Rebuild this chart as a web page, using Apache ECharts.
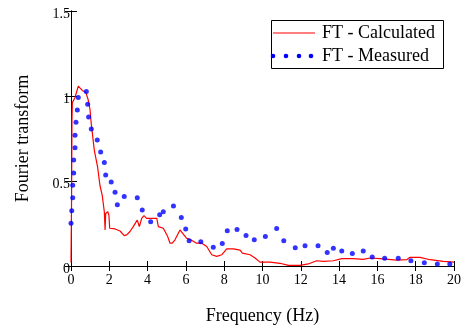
<!DOCTYPE html>
<html>
<head>
<meta charset="utf-8">
<script src="https://cdn.jsdelivr.net/npm/echarts@6/dist/echarts.min.js"></script>
<style>html,body{margin:0;padding:0;background:#fff}#c{width:467px;height:330px}</style>
</head>
<body>
<div id="c"></div>
<script>
var calcX = [0,0.03,0.05,0.07,0.21,0.29,0.38,0.47,0.59,0.68,0.78,0.89,0.99,1.06,1.11,1.22,1.39,1.51,1.63,1.74,1.78,1.81,1.92,1.98,2.02,2.09,2.30,2.56,2.78,2.91,3.08,3.25,3.46,3.57,3.69,3.81,3.95,4.48,4.56,4.82,5.05,5.17,5.29,5.43,5.69,5.78,6.04,6.25,6.56,6.83,7.09,7.35,7.61,7.87,8.13,8.48,8.83,8.95,9.35,9.61,9.87,10.39,10.91,11.35,11.96,12.39,12.83,13.18,13.70,14.14,14.74,15.26,15.61,16.14,17.01,17.53,17.70,18.22,18.75,19.44,20.0];
var calcY = [0.02,0.40,0.85,0.961,0.991,0.998,1.058,1.058,1.033,1.027,1.020,0.981,0.922,0.835,0.786,0.679,0.582,0.475,0.416,0.319,0.212,0.309,0.319,0.299,0.222,0.218,0.218,0.206,0.179,0.183,0.203,0.232,0.270,0.232,0.280,0.296,0.280,0.280,0.232,0.222,0.173,0.134,0.134,0.154,0.212,0.203,0.163,0.154,0.134,0.134,0.115,0.066,0.057,0.066,0.101,0.101,0.093,0.076,0.066,0.047,0.023,0.023,0.016,0.004,0.004,0.012,0.031,0.027,0.031,0.043,0.043,0.039,0.047,0.043,0.035,0.037,0.051,0.051,0.037,0.027,0.023];
var measX = [0,0.04,0.09,0.09,0.14,0.14,0.21,0.21,0.26,0.33,0.38,0.80,0.87,0.92,1.06,1.37,1.55,1.74,1.81,2.10,2.30,2.42,2.78,3.46,3.72,4.16,4.63,4.82,5.35,5.76,5.99,6.17,6.78,7.43,7.90,8.16,8.67,9.14,9.57,10.15,10.74,11.11,11.71,12.22,12.90,13.38,13.70,14.14,14.69,15.26,15.73,16.38,17.09,17.75,18.45,19.13,19.78];
var measY = [0.251,0.325,0.401,0.475,0.547,0.623,0.695,0.769,0.845,0.918,0.991,1.026,0.952,0.877,0.806,0.741,0.670,0.609,0.535,0.494,0.434,0.360,0.409,0.401,0.329,0.261,0.302,0.319,0.353,0.286,0.217,0.149,0.142,0.111,0.133,0.207,0.215,0.179,0.155,0.173,0.220,0.148,0.107,0.119,0.119,0.080,0.105,0.088,0.074,0.088,0.053,0.045,0.045,0.031,0.019,0.012,0.012];
var xTicks = {min: 0, max: 20, interval: 2};
var yTicks = {min: 0, max: 1.5, interval: 0.5};
var seriesNames = ['FT - Calculated', 'FT - Measured'];
var axisNames = ['Frequency (Hz)', 'Fourier transform'];

var FONT = '"Liberation Serif", "Times New Roman", serif';
function zip(a, b) { return a.map(function (v, i) { return [v, b[i]]; }); }
var axisLineStyle = {show: true, lineStyle: {color: '#000', width: 1}};
var tick = {show: true, inside: true, length: 5, lineStyle: {color: '#000', width: 1}};

var chart = echarts.init(document.getElementById('c'), null, {renderer: 'canvas'});
chart.setOption({
  animation: false,
  backgroundColor: '#fff',
  grid: {left: 71, right: 13, top: 11, bottom: 62},
  xAxis: [{
    type: 'value', min: xTicks.min, max: xTicks.max, interval: xTicks.interval,
    name: axisNames[0], nameLocation: 'middle', nameGap: 41,
    nameTextStyle: {fontFamily: FONT, fontSize: 18, color: '#000'},
    axisLine: axisLineStyle, axisTick: tick, splitLine: {show: false},
    axisLabel: {fontFamily: FONT, fontSize: 14, color: '#000', margin: 7}
  }, {
    type: 'value', position: 'top', min: xTicks.min, max: xTicks.max, interval: xTicks.interval,
    axisLine: axisLineStyle, axisTick: tick, splitLine: {show: false}, axisLabel: {show: false}
  }],
  yAxis: [{
    type: 'value', min: yTicks.min, max: yTicks.max, interval: yTicks.interval,
    name: axisNames[1], nameLocation: 'middle', nameGap: 39, nameRotate: 90,
    nameTextStyle: {fontFamily: FONT, fontSize: 18, color: '#000'},
    axisLine: axisLineStyle, axisTick: {show: true, inside: true, length: 6, lineStyle: {color: '#000'}},
    splitLine: {show: false},
    axisLabel: {fontFamily: FONT, fontSize: 14, color: '#000', margin: 1, verticalAlign: 'top', lineHeight: 7}
  }, {
    type: 'value', position: 'right', min: yTicks.min, max: yTicks.max, interval: yTicks.interval,
    axisLine: axisLineStyle, axisTick: {show: true, inside: true, length: 6, lineStyle: {color: '#000'}},
    splitLine: {show: false}, axisLabel: {show: false}
  }],
  series: [{
    name: seriesNames[0], type: 'line', data: zip(calcX, calcY), showSymbol: false, symbol: 'none',
    lineStyle: {color: '#ff0000', width: 1.2}, z: 3
  }, {
    name: seriesNames[1], type: 'scatter', data: zip(measX, measY), symbol: 'circle', symbolSize: 5,
    itemStyle: {color: '#0000ff'}, z: 4
  }],
  graphic: [
    {type: 'rect', left: 271, top: 20, shape: {width: 172, height: 48}, style: {fill: '#fff', stroke: '#000', lineWidth: 1}, z: 10},
    {type: 'line', shape: {x1: 273, y1: 33, x2: 315, y2: 33}, style: {stroke: '#ff0000', lineWidth: 1.2}, z: 11},
    {type: 'text', x: 322, y: 33, style: {text: seriesNames[0], font: '18px ' + FONT, fill: '#000', verticalAlign: 'middle'}, z: 11},
    {type: 'circle', shape: {cx: 273, cy: 56, r: 2.3}, style: {fill: '#0000ff'}, z: 11},
    {type: 'circle', shape: {cx: 286, cy: 56, r: 2.3}, style: {fill: '#0000ff'}, z: 11},
    {type: 'circle', shape: {cx: 299, cy: 56, r: 2.3}, style: {fill: '#0000ff'}, z: 11},
    {type: 'circle', shape: {cx: 311, cy: 56, r: 2.3}, style: {fill: '#0000ff'}, z: 11},
    {type: 'text', x: 322, y: 56, style: {text: seriesNames[1], font: '18px ' + FONT, fill: '#000', verticalAlign: 'middle'}, z: 11}
  ]
});
</script>
</body>
</html>
